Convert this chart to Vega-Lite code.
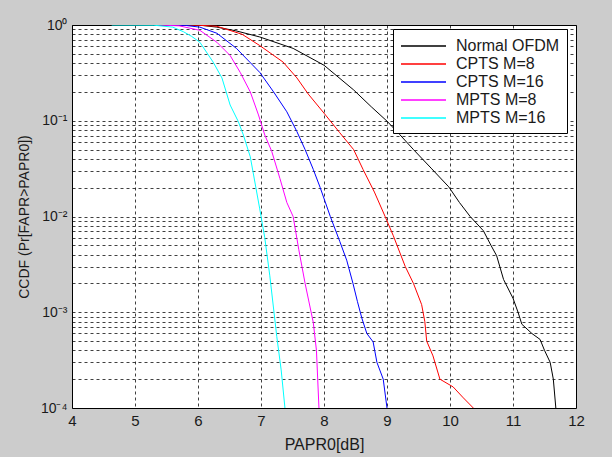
{
  "$schema": "https://vega.github.io/schema/vega-lite/v6.json",
  "width": 504,
  "height": 383,
  "autosize": {"type": "none"},
  "padding": {"left": 72, "top": 25, "right": 36, "bottom": 49},
  "background": "#cccccc",
  "config": {
    "view": {"fill": "white", "stroke": "black", "strokeWidth": 1},
    "axis": {
      "labelFont": "Liberation Sans",
      "labelFontSize": 14,
      "labelColor": "#1a1a1a",
      "titleFont": "Liberation Sans",
      "titleFontSize": 14,
      "titleFontWeight": "normal",
      "titleColor": "#1a1a1a",
      "ticks": false,
      "domain": false,
      "grid": true,
      "gridColor": "#000000",
      "gridOpacity": 0.75,
      "gridDash": [3, 3],
      "gridWidth": 1,
      "labelFlush": false,
      "labelOverlap": false
    },
    "legend": {
      "labelFont": "Liberation Sans",
      "labelFontSize": 16,
      "labelColor": "#1a1a1a"
    }
  },
  "data": {
    "values": [
      {"s": "Normal OFDM", "x": 6.0, "y": 1},
      {"s": "Normal OFDM", "x": 6.3, "y": 0.95},
      {"s": "Normal OFDM", "x": 6.6, "y": 0.87},
      {"s": "Normal OFDM", "x": 6.98, "y": 0.75},
      {"s": "Normal OFDM", "x": 7.51, "y": 0.57},
      {"s": "Normal OFDM", "x": 8.0, "y": 0.38},
      {"s": "Normal OFDM", "x": 8.47, "y": 0.21},
      {"s": "Normal OFDM", "x": 8.75, "y": 0.14},
      {"s": "Normal OFDM", "x": 9.0, "y": 0.099},
      {"s": "Normal OFDM", "x": 9.2, "y": 0.072},
      {"s": "Normal OFDM", "x": 9.42, "y": 0.05},
      {"s": "Normal OFDM", "x": 9.7, "y": 0.032},
      {"s": "Normal OFDM", "x": 9.98, "y": 0.0204},
      {"s": "Normal OFDM", "x": 10.15, "y": 0.014},
      {"s": "Normal OFDM", "x": 10.32, "y": 0.01},
      {"s": "Normal OFDM", "x": 10.53, "y": 0.0071},
      {"s": "Normal OFDM", "x": 10.65, "y": 0.005},
      {"s": "Normal OFDM", "x": 10.74, "y": 0.0039},
      {"s": "Normal OFDM", "x": 10.85, "y": 0.0022},
      {"s": "Normal OFDM", "x": 11.0, "y": 0.0014},
      {"s": "Normal OFDM", "x": 11.08, "y": 0.001},
      {"s": "Normal OFDM", "x": 11.14, "y": 0.00075},
      {"s": "Normal OFDM", "x": 11.3, "y": 0.0006},
      {"s": "Normal OFDM", "x": 11.43, "y": 0.00052},
      {"s": "Normal OFDM", "x": 11.5, "y": 0.0004},
      {"s": "Normal OFDM", "x": 11.59, "y": 0.0003},
      {"s": "Normal OFDM", "x": 11.64, "y": 0.0002},
      {"s": "Normal OFDM", "x": 11.68, "y": 0.0001},

      {"s": "CPTS M=8", "x": 5.66, "y": 1},
      {"s": "CPTS M=8", "x": 6.0, "y": 0.995},
      {"s": "CPTS M=8", "x": 6.3, "y": 0.97},
      {"s": "CPTS M=8", "x": 6.7, "y": 0.8},
      {"s": "CPTS M=8", "x": 6.98, "y": 0.61},
      {"s": "CPTS M=8", "x": 7.35, "y": 0.41},
      {"s": "CPTS M=8", "x": 7.57, "y": 0.28},
      {"s": "CPTS M=8", "x": 7.75, "y": 0.19},
      {"s": "CPTS M=8", "x": 8.0, "y": 0.12},
      {"s": "CPTS M=8", "x": 8.25, "y": 0.075},
      {"s": "CPTS M=8", "x": 8.47, "y": 0.05},
      {"s": "CPTS M=8", "x": 8.62, "y": 0.031},
      {"s": "CPTS M=8", "x": 8.8, "y": 0.018},
      {"s": "CPTS M=8", "x": 8.97, "y": 0.01},
      {"s": "CPTS M=8", "x": 9.1, "y": 0.0063},
      {"s": "CPTS M=8", "x": 9.29, "y": 0.003},
      {"s": "CPTS M=8", "x": 9.42, "y": 0.002},
      {"s": "CPTS M=8", "x": 9.55, "y": 0.0012},
      {"s": "CPTS M=8", "x": 9.6, "y": 0.0008},
      {"s": "CPTS M=8", "x": 9.63, "y": 0.0005},
      {"s": "CPTS M=8", "x": 9.73, "y": 0.00035},
      {"s": "CPTS M=8", "x": 9.84, "y": 0.0002},
      {"s": "CPTS M=8", "x": 10.05, "y": 0.000166},
      {"s": "CPTS M=8", "x": 10.2, "y": 0.00013},
      {"s": "CPTS M=8", "x": 10.37, "y": 0.0001},

      {"s": "CPTS M=16", "x": 5.5, "y": 1},
      {"s": "CPTS M=16", "x": 5.8, "y": 0.99},
      {"s": "CPTS M=16", "x": 6.03, "y": 0.95},
      {"s": "CPTS M=16", "x": 6.3, "y": 0.82},
      {"s": "CPTS M=16", "x": 6.61, "y": 0.57},
      {"s": "CPTS M=16", "x": 6.98, "y": 0.32},
      {"s": "CPTS M=16", "x": 7.2, "y": 0.2},
      {"s": "CPTS M=16", "x": 7.41, "y": 0.124},
      {"s": "CPTS M=16", "x": 7.57, "y": 0.077},
      {"s": "CPTS M=16", "x": 7.7, "y": 0.05},
      {"s": "CPTS M=16", "x": 7.83, "y": 0.031},
      {"s": "CPTS M=16", "x": 7.94, "y": 0.02},
      {"s": "CPTS M=16", "x": 8.1, "y": 0.01},
      {"s": "CPTS M=16", "x": 8.25, "y": 0.0055},
      {"s": "CPTS M=16", "x": 8.36, "y": 0.0035},
      {"s": "CPTS M=16", "x": 8.46, "y": 0.002},
      {"s": "CPTS M=16", "x": 8.53, "y": 0.0013},
      {"s": "CPTS M=16", "x": 8.6, "y": 0.00087},
      {"s": "CPTS M=16", "x": 8.68, "y": 0.0006},
      {"s": "CPTS M=16", "x": 8.78, "y": 0.00049},
      {"s": "CPTS M=16", "x": 8.84, "y": 0.0003},
      {"s": "CPTS M=16", "x": 8.94, "y": 0.0002},
      {"s": "CPTS M=16", "x": 9.0, "y": 0.0001},

      {"s": "MPTS M=8", "x": 5.36, "y": 1},
      {"s": "MPTS M=8", "x": 5.7, "y": 0.98},
      {"s": "MPTS M=8", "x": 6.03, "y": 0.88},
      {"s": "MPTS M=8", "x": 6.3, "y": 0.66},
      {"s": "MPTS M=8", "x": 6.51, "y": 0.48},
      {"s": "MPTS M=8", "x": 6.67, "y": 0.32},
      {"s": "MPTS M=8", "x": 6.83, "y": 0.2},
      {"s": "MPTS M=8", "x": 6.96, "y": 0.115},
      {"s": "MPTS M=8", "x": 7.06, "y": 0.071},
      {"s": "MPTS M=8", "x": 7.17, "y": 0.048},
      {"s": "MPTS M=8", "x": 7.3, "y": 0.025},
      {"s": "MPTS M=8", "x": 7.41, "y": 0.014},
      {"s": "MPTS M=8", "x": 7.51, "y": 0.01},
      {"s": "MPTS M=8", "x": 7.6, "y": 0.0045},
      {"s": "MPTS M=8", "x": 7.7, "y": 0.002},
      {"s": "MPTS M=8", "x": 7.83, "y": 0.00078},
      {"s": "MPTS M=8", "x": 7.88, "y": 0.0004},
      {"s": "MPTS M=8", "x": 7.92, "y": 0.0001},

      {"s": "MPTS M=16", "x": 4.63, "y": 1},
      {"s": "MPTS M=16", "x": 5.3, "y": 0.995},
      {"s": "MPTS M=16", "x": 5.6, "y": 0.95},
      {"s": "MPTS M=16", "x": 5.77, "y": 0.85},
      {"s": "MPTS M=16", "x": 5.9, "y": 0.76},
      {"s": "MPTS M=16", "x": 6.03, "y": 0.66},
      {"s": "MPTS M=16", "x": 6.24, "y": 0.41},
      {"s": "MPTS M=16", "x": 6.38, "y": 0.28},
      {"s": "MPTS M=16", "x": 6.51, "y": 0.146},
      {"s": "MPTS M=16", "x": 6.64, "y": 0.098},
      {"s": "MPTS M=16", "x": 6.72, "y": 0.071},
      {"s": "MPTS M=16", "x": 6.83, "y": 0.042},
      {"s": "MPTS M=16", "x": 6.98, "y": 0.012},
      {"s": "MPTS M=16", "x": 7.06, "y": 0.006},
      {"s": "MPTS M=16", "x": 7.14, "y": 0.0024},
      {"s": "MPTS M=16", "x": 7.25, "y": 0.00056},
      {"s": "MPTS M=16", "x": 7.32, "y": 0.00025},
      {"s": "MPTS M=16", "x": 7.38, "y": 0.0001}
    ]
  },
  "mark": {"type": "line", "strokeWidth": 1, "clip": true},
  "encoding": {
    "x": {
      "field": "x",
      "type": "quantitative",
      "scale": {"domain": [4, 12], "nice": false, "zero": false},
      "axis": {
        "title": "PAPR0[dB]",
        "titleFontSize": 16,
        "values": [4, 5, 6, 7, 8, 9, 10, 11, 12],
        "format": "d",
        "labelFontSize": 15,
        "labelPadding": 5,
        "titlePadding": 8
      }
    },
    "y": {
      "field": "y",
      "type": "quantitative",
      "scale": {"type": "log", "domain": [0.0001, 1], "nice": false},
      "axis": {
        "title": "CCDF  (Pr[FAPR>PAPR0])",
        "values": [0.0001, 0.0002, 0.0003, 0.0004, 0.0005, 0.0006, 0.0007, 0.0008, 0.0009,
                   0.001, 0.002, 0.003, 0.004, 0.005, 0.006, 0.007, 0.008, 0.009,
                   0.01, 0.02, 0.03, 0.04, 0.05, 0.06, 0.07, 0.08, 0.09,
                   0.1, 0.2, 0.3, 0.4, 0.5, 0.6, 0.7, 0.8, 0.9, 1],
        "labelExpr": "datum.value == 1 ? '10⁰' : datum.value == 0.1 ? '10⁻¹' : datum.value == 0.01 ? '10⁻²' : datum.value == 0.001 ? '10⁻³' : datum.value == 0.0001 ? '10⁻⁴' : ''",
        "labelPadding": 5,
        "titlePadding": 9
      }
    },
    "color": {
      "field": "s",
      "type": "nominal",
      "sort": ["Normal OFDM", "CPTS M=8", "CPTS M=16", "MPTS M=8", "MPTS M=16"],
      "scale": {
        "domain": ["Normal OFDM", "CPTS M=8", "CPTS M=16", "MPTS M=8", "MPTS M=16"],
        "range": ["#000000", "#ff0000", "#0000ff", "#ff00ff", "#00ffff"]
      },
      "legend": {
        "title": null,
        "orient": "none",
        "legendX": 321,
        "legendY": 4,
        "fillColor": "white",
        "strokeColor": "black",
        "padding": 7,
        "symbolType": "M-2.5,0H2.5",
        "symbolSize": 324,
        "symbolOffset": 13.5,
        "symbolStrokeWidth": 1.5,
        "labelOffset": 22.5,
        "rowPadding": 0,
        "labelLimit": 200
      }
    }
  }
}
